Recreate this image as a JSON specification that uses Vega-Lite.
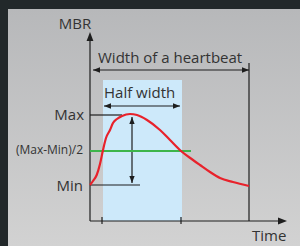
{
  "$schema": "https://vega.github.io/schema/vega-lite/v6.json",
  "width": 300,
  "height": 246,
  "padding": 0,
  "autosize": {"type": "none"},
  "background": "#22282a",
  "config": {"view": {"stroke": null}},
  "datasets": {
    "frame": [{"x": -82, "y": 212, "x2": 210, "y2": -25}],
    "band": [{"x": 13, "y": 141, "x2": 92, "y2": 0}],
    "lines": [
      {"x": 0, "y": 0, "x2": 0, "y2": 183},
      {"x": 0, "y": 0, "x2": 190, "y2": 0},
      {"x": 159, "y": 0, "x2": 159, "y2": 158},
      {"x": 3, "y": 151, "x2": 159, "y2": 151},
      {"x": 14, "y": 115, "x2": 90, "y2": 115},
      {"x": 0, "y": 106, "x2": 32, "y2": 106},
      {"x": 0, "y": 36, "x2": 50, "y2": 36},
      {"x": 42, "y": 104, "x2": 42, "y2": 38},
      {"x": 12, "y": -3, "x2": 12, "y2": 4},
      {"x": 91, "y": -3, "x2": 91, "y2": 4}
    ],
    "mid": [{"x": 0, "y": 70, "x2": 101, "y2": 70}],
    "curve": [
      {"x": 0, "y": 36}, {"x": 3, "y": 40}, {"x": 6.7, "y": 46}, {"x": 10, "y": 57},
      {"x": 13, "y": 71}, {"x": 16, "y": 83}, {"x": 20, "y": 91}, {"x": 23, "y": 98},
      {"x": 27, "y": 102}, {"x": 32, "y": 105}, {"x": 40, "y": 107}, {"x": 47, "y": 106},
      {"x": 57, "y": 101}, {"x": 70, "y": 91}, {"x": 80, "y": 81}, {"x": 91, "y": 70},
      {"x": 103, "y": 61}, {"x": 110, "y": 56}, {"x": 120, "y": 49}, {"x": 130, "y": 43},
      {"x": 143, "y": 39}, {"x": 159, "y": 35}
    ],
    "bigArrows": [
      {"x": 0, "y": 189, "dir": "up"},
      {"x": 197, "y": 0, "dir": "right"}
    ],
    "smallArrows": [
      {"x": 3, "y": 151, "dir": "left"},
      {"x": 159, "y": 151, "dir": "right"},
      {"x": 14, "y": 115, "dir": "left"},
      {"x": 90, "y": 115, "dir": "right"},
      {"x": 42, "y": 104, "dir": "up"},
      {"x": 42, "y": 38, "dir": "down"}
    ],
    "texts": [
      {"label": "MBR", "x": -15, "y": 192},
      {"label": "Width of a heartbeat", "x": 8, "y": 158},
      {"label": "Half width", "x": 14, "y": 123},
      {"label": "Time", "x": 162, "y": -20},
      {"label": "Max", "x": -6, "y": 101},
      {"label": "Min", "x": -7, "y": 30},
      {"label": "(Max-Min)/2", "x": -7, "y": 67}
    ]
  },
  "encoding": {
    "x": {"field": "x", "type": "quantitative", "scale": {"domain": [-90, 210], "nice": false, "zero": false}, "axis": null},
    "y": {"field": "y", "type": "quantitative", "scale": {"domain": [-25, 221], "nice": false, "zero": false}, "axis": null}
  },
  "layer": [
    {
      "data": {"name": "frame"},
      "mark": {"type": "rect", "color": {"gradient": "linear", "x1": 0, "y1": 0, "x2": 0, "y2": 1, "stops": [{"offset": 0, "color": "#b7b8ba"}, {"offset": 1, "color": "#d2d2d2"}]}},
      "encoding": {"x2": {"field": "x2"}, "y2": {"field": "y2"}}
    },
    {
      "data": {"name": "band"},
      "mark": {"type": "rect", "color": "#cde9fa"},
      "encoding": {"x2": {"field": "x2"}, "y2": {"field": "y2"}}
    },
    {
      "data": {"name": "lines"},
      "mark": {"type": "rule", "color": "#1e1e1e", "strokeWidth": 1.2},
      "encoding": {"x2": {"field": "x2"}, "y2": {"field": "y2"}}
    },
    {
      "data": {"name": "mid"},
      "mark": {"type": "rule", "color": "#3db54a", "strokeWidth": 2},
      "encoding": {"x2": {"field": "x2"}, "y2": {"field": "y2"}}
    },
    {
      "data": {"name": "curve"},
      "mark": {"type": "line", "color": "#e8222b", "strokeWidth": 2.2, "interpolate": "monotone"},
      "encoding": {}
    },
    {
      "data": {"name": "bigArrows"},
      "mark": {"type": "point", "filled": true, "opacity": 1, "color": "#1e1e1e", "strokeWidth": 0, "size": 324},
      "encoding": {"shape": {"field": "dir", "type": "nominal", "legend": null, "scale": {"domain": ["up", "down", "left", "right"], "range": ["M0,0L0.38,1L-0.38,1Z", "M0,0L0.38,-1L-0.38,-1Z", "M0,0L1,0.38L1,-0.38Z", "M0,0L-1,0.38L-1,-0.38Z"]}}}
    },
    {
      "data": {"name": "smallArrows"},
      "mark": {"type": "point", "filled": true, "opacity": 1, "color": "#1e1e1e", "strokeWidth": 0, "size": 196},
      "encoding": {"shape": {"field": "dir", "type": "nominal", "legend": null, "scale": {"domain": ["up", "down", "left", "right"], "range": ["M0,0L0.38,1L-0.38,1Z", "M0,0L0.38,-1L-0.38,-1Z", "M0,0L1,0.38L1,-0.38Z", "M0,0L-1,0.38L-1,-0.38Z"]}}}
    },
    {
      "data": {"name": "texts"},
      "transform": [{"filter": "datum.label == 'MBR'"}],
      "mark": {"type": "text", "font": "Open Sans", "fontSize": 15, "color": "#333333", "align": "center", "baseline": "alphabetic"},
      "encoding": {"text": {"field": "label"}}
    },
    {
      "data": {"name": "texts"},
      "transform": [{"filter": "datum.label == 'Width of a heartbeat' || datum.label == 'Half width' || datum.label == 'Time'"}],
      "mark": {"type": "text", "font": "Open Sans", "fontSize": 15, "color": "#333333", "align": "left", "baseline": "alphabetic"},
      "encoding": {"text": {"field": "label"}}
    },
    {
      "data": {"name": "texts"},
      "transform": [{"filter": "datum.label == 'Max' || datum.label == 'Min'"}],
      "mark": {"type": "text", "font": "Open Sans", "fontSize": 15, "color": "#333333", "align": "right", "baseline": "alphabetic"},
      "encoding": {"text": {"field": "label"}}
    },
    {
      "data": {"name": "texts"},
      "transform": [{"filter": "datum.label == '(Max-Min)/2'"}],
      "mark": {"type": "text", "font": "Open Sans", "fontSize": 12, "color": "#333333", "align": "right", "baseline": "alphabetic"},
      "encoding": {"text": {"field": "label"}}
    }
  ]
}
